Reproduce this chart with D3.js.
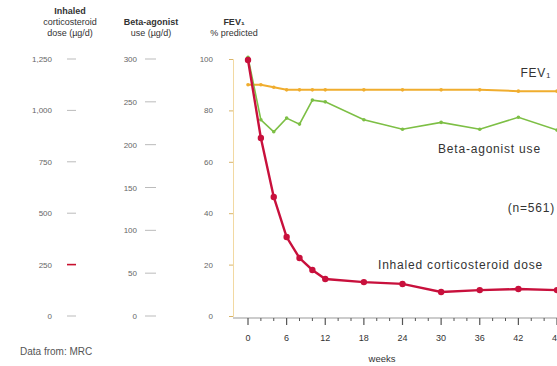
<!DOCTYPE html>
<html>
<head>
<meta charset="utf-8">
<script src="https://cdn.jsdelivr.net/npm/d3@7"></script>
<style>
  body { margin: 0; background: #fff; }
  svg { font-family: "Liberation Sans", Arial, sans-serif; }
</style>
</head>
<body>
<svg id="chart" width="557" height="366"></svg>
<script>
// weeks at which each series was sampled
const weeks = [0, 2, 4, 6, 8, 10, 12, 18, 24, 30, 36, 42, 48];
// inhaled corticosteroid dose (ug/d)
const icsDose = [1245, 866, 579, 384, 282, 224, 180, 165, 156, 117, 126, 131, 126];
// beta-agonist use (ug/d)
const betaUse = [302, 229, 215, 231, 224, 252, 250, 229, 218, 226, 218, 232, 217];
// FEV1 % predicted
const fev = [90, 90, 89, 88, 88, 88, 88, 88, 88, 88, 88, 87.5, 87.5];

const xTicks = [0, 6, 12, 18, 24, 30, 36, 42, 48];
const icsTicks = [0, 250, 500, 750, 1000, 1250];
const betaTicks = [0, 50, 100, 150, 200, 250, 300];
const fevTicks = [0, 20, 40, 60, 80, 100];

const svg = d3.select("#chart");
const x = d3.scaleLinear().domain([0, 48]).range([248, 557]);
const yFev = d3.scaleLinear().domain([0, 100]).range([316, 59]);
const yIcs = d3.scaleLinear().domain([0, 1250]).range([316, 59]);
const yBeta = d3.scaleLinear().domain([0, 300]).range([316, 59]);

const grey = "#666";

// column headers
const headers = [
  { cx: 70, lines: ["Inhaled", "corticosteroid", "dose (µg/d)"] },
  { cx: 151, lines: ["Beta-agonist", "use (µg/d)"] },
  { cx: 234, lines: ["FEV\u2081", "% predicted"] }
];
headers.forEach(h => {
  const t = svg.append("text")
    .attr("text-anchor", "middle")
    .attr("font-size", 9)
    .attr("fill", "#333");
  h.lines.forEach((l, i) => {
    t.append("tspan")
      .attr("x", h.cx)
      .attr("y", 36 - (h.lines.length - 1 - i) * 11)
      .attr("font-weight", i === 0 ? "bold" : null)
      .text(l);
  });
});

// corticosteroid axis (free standing labels + dashes)
const icsAxis = svg.append("g");
icsAxis.selectAll("text").data(icsTicks).join("text")
  .attr("x", 52).attr("y", d => yIcs(d) + 3)
  .attr("text-anchor", "end").attr("font-size", 8).attr("fill", grey)
  .text(d => d3.format(",")(d));
icsAxis.selectAll("line").data(icsTicks).join("line")
  .attr("x1", 67).attr("x2", 76)
  .attr("y1", d => yIcs(d)).attr("y2", d => yIcs(d))
  .attr("stroke", d => d === 250 ? "#c8102e" : "#bbb")
  .attr("stroke-width", d => d === 250 ? 1.6 : 1);

// beta-agonist axis
const betaAxis = svg.append("g");
betaAxis.selectAll("text").data(betaTicks).join("text")
  .attr("x", 137).attr("y", d => yBeta(d) + 3)
  .attr("text-anchor", "end").attr("font-size", 8).attr("fill", grey)
  .text(d => d);
betaAxis.selectAll("line").data(betaTicks).join("line")
  .attr("x1", 145).attr("x2", 156)
  .attr("y1", d => yBeta(d)).attr("y2", d => yBeta(d))
  .attr("stroke", "#bbb");

// FEV1 axis
const fevAxis = svg.append("g").attr("transform", "translate(233,0)")
  .call(d3.axisLeft(yFev).tickValues(fevTicks).tickSize(4).tickPadding(16));
fevAxis.select(".domain").attr("stroke", "#f2d9a2");
fevAxis.selectAll(".tick line").attr("stroke", "#d9b56a");
fevAxis.selectAll(".tick text").attr("font-size", 8).attr("fill", grey)
  .attr("font-family", "Liberation Sans, Arial, sans-serif");

// x axis
svg.append("line")
  .attr("x1", 233).attr("x2", 557).attr("y1", 318).attr("y2", 318)
  .attr("stroke", "#999");
svg.append("g").selectAll("line").data(d3.range(0, 50, 2)).join("line")
  .attr("x1", d => x(d)).attr("x2", d => x(d))
  .attr("y1", 318).attr("y2", d => d % 6 === 0 ? 325 : 321)
  .attr("stroke", "#555").attr("stroke-width", d => d % 6 === 0 ? 1.2 : 1);
svg.append("g").selectAll("text").data(xTicks).join("text")
  .attr("x", d => x(d)).attr("y", 341)
  .attr("text-anchor", "middle").attr("font-size", 9).attr("fill", "#333")
  .text(d => d);
svg.append("text")
  .attr("x", 382).attr("y", 362)
  .attr("text-anchor", "middle").attr("font-size", 9.5).attr("fill", "#333")
  .text("weeks");

// series
const series = [
  { values: fev, y: yFev, color: "#f0ad2e", width: 2, r: 1.8 },
  { values: betaUse, y: yBeta, color: "#7dbf45", width: 1.6, r: 1.8 },
  { values: icsDose, y: yIcs, color: "#c8103c", width: 2.4, r: 3.2 }
];
series.forEach(s => {
  const pts = weeks.map((w, i) => [w, s.values[i]]);
  svg.append("path").datum(pts)
    .attr("fill", "none")
    .attr("stroke", s.color)
    .attr("stroke-width", s.width)
    .attr("d", d3.line().x(d => x(d[0])).y(d => s.y(d[1])));
  svg.append("g").selectAll("circle").data(pts).join("circle")
    .attr("cx", d => x(d[0])).attr("cy", d => s.y(d[1]))
    .attr("r", s.r).attr("fill", s.color);
});

// annotations
const notes = [
  { x: 551, y: 77, anchor: "end", text: "FEV\u2081" },
  { x: 438, y: 153, anchor: "start", text: "Beta-agonist use" },
  { x: 555, y: 212, anchor: "end", text: "(n=561)" },
  { x: 378, y: 269, anchor: "start", text: "Inhaled corticosteroid dose" }
];
svg.append("g").selectAll("text").data(notes).join("text")
  .attr("x", d => d.x).attr("y", d => d.y)
  .attr("text-anchor", d => d.anchor)
  .attr("font-size", 12).attr("letter-spacing", 0.8).attr("fill", "#333")
  .text(d => d.text);

svg.append("text")
  .attr("x", 20).attr("y", 355)
  .attr("font-size", 10).attr("fill", "#555")
  .text("Data from: MRC");
</script>
</body>
</html>
